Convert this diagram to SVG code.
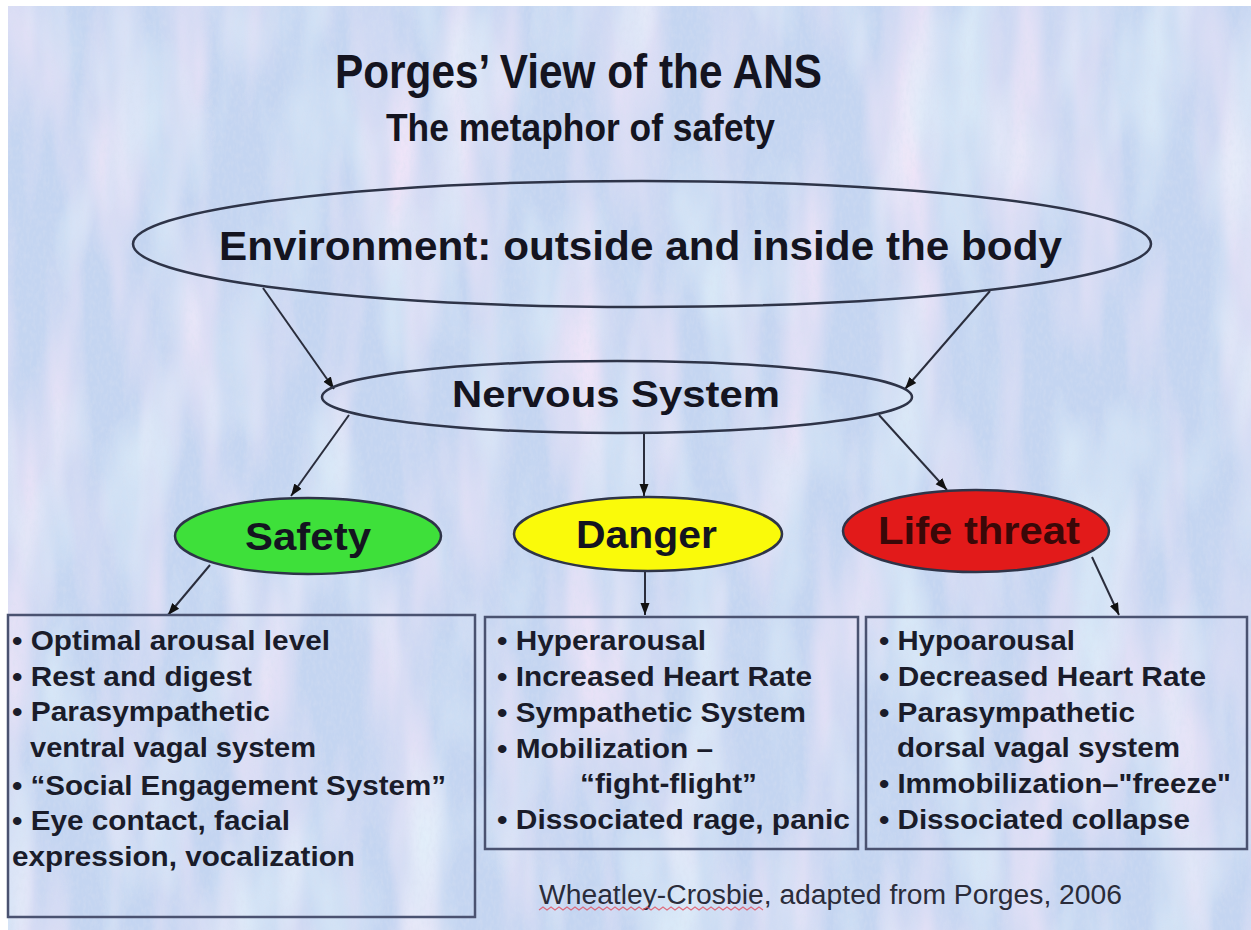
<svg xmlns="http://www.w3.org/2000/svg" width="1251" height="930" viewBox="0 0 1251 930">
<style>
.bg{fill:#c4d5f1}
.t{font-family:"Liberation Sans",Arial,Helvetica,sans-serif;font-weight:bold;fill:#141420}
.b{font-family:"Liberation Sans",Arial,Helvetica,sans-serif;font-weight:bold;fill:#1a1c2a;font-size:28px}
.f{font-family:"Liberation Sans",Arial,Helvetica,sans-serif;fill:#2a2c3a;font-size:27px}
.ell{stroke:#2e3448;stroke-width:2.5}
.box{fill:none;stroke:#4a5270;stroke-width:2.5}
.con{fill:none;stroke:#2a2d3c;stroke-width:2}
</style>
<defs>
<marker id="ah" markerUnits="userSpaceOnUse" markerWidth="14" markerHeight="12" refX="12" refY="6" orient="auto">
<path d="M0,1.5 L12,6 L0,10.5 z" fill="#111"/>
</marker>
<filter id="pink" x="0" y="0" width="100%" height="100%">
<feTurbulence type="fractalNoise" baseFrequency="0.018 0.0035" numOctaves="3" seed="7"/>
<feColorMatrix type="matrix" values="0 0 0 0 0.86  0 0 0 0 0.78  0 0 0 0 0.94  2.4 0 0 0 -1.05"/>
</filter>
<filter id="cyan" x="0" y="0" width="100%" height="100%">
<feTurbulence type="fractalNoise" baseFrequency="0.015 0.005" numOctaves="3" seed="21"/>
<feColorMatrix type="matrix" values="0 0 0 0 0.76  0 0 0 0 0.88  0 0 0 0 0.96  0 2.0 0 0 -0.95"/>
</filter>
<filter id="grain" x="0" y="0" width="100%" height="100%">
<feTurbulence type="fractalNoise" baseFrequency="0.3 0.15" numOctaves="2" seed="3"/>
<feColorMatrix type="matrix" values="0 0 0 0 0.68  0 0 0 0 0.74  0 0 0 0 0.88  1.4 0 0 0 -0.55"/>
</filter>
</defs>
<rect width="1251" height="930" fill="#ffffff"/>
<rect class="bg" x="8" y="6" width="1243" height="924"/>
<rect x="8" y="6" width="1243" height="924" filter="url(#pink)"/>
<rect x="8" y="6" width="1243" height="924" filter="url(#cyan)"/>
<rect x="8" y="6" width="1243" height="924" filter="url(#grain)" opacity="0.5"/>

<g id="title">
<text class="t" x="335" y="88" font-size="48" textLength="487" lengthAdjust="spacingAndGlyphs">Porges’ View of the ANS</text>
<text class="t" x="386" y="141" font-size="39" textLength="389" lengthAdjust="spacingAndGlyphs">The metaphor of safety</text>
</g>

<g id="connectors">
<line class="con" x1="263" y1="288" x2="334" y2="389" marker-end="url(#ah)"/>
<line class="con" x1="990" y1="291" x2="905" y2="389" marker-end="url(#ah)"/>
<line class="con" x1="349" y1="415" x2="291" y2="496" marker-end="url(#ah)"/>
<line class="con" x1="644" y1="434" x2="644" y2="496" marker-end="url(#ah)"/>
<line class="con" x1="879" y1="415" x2="947" y2="490" marker-end="url(#ah)"/>
<line class="con" x1="210" y1="565" x2="168" y2="615" marker-end="url(#ah)"/>
<line class="con" x1="645" y1="572" x2="645" y2="615" marker-end="url(#ah)"/>
<line class="con" x1="1092" y1="557" x2="1119" y2="615" marker-end="url(#ah)"/>
</g>

<g id="environment">
<ellipse class="ell" cx="642" cy="244" rx="509" ry="63" fill="none"/>
<text class="t" x="219" y="260" font-size="40" textLength="843" lengthAdjust="spacingAndGlyphs">Environment: outside and inside the body</text>
</g>

<g id="nervous-system">
<ellipse class="ell" cx="617" cy="397" rx="295" ry="36" fill="none"/>
<text class="t" x="452" y="407" font-size="37" textLength="328" lengthAdjust="spacingAndGlyphs">Nervous System</text>
</g>

<g id="safety">
<ellipse class="ell" cx="308" cy="536" rx="133" ry="38" fill="#3ee03a"/>
<text class="t" x="245" y="550" font-size="39" textLength="126" lengthAdjust="spacingAndGlyphs">Safety</text>
</g>

<g id="danger">
<ellipse class="ell" cx="648" cy="534" rx="134" ry="37" fill="#fafa0a"/>
<text class="t" x="576" y="548" font-size="39" textLength="141" lengthAdjust="spacingAndGlyphs">Danger</text>
</g>

<g id="life-threat">
<ellipse class="ell" cx="976" cy="531" rx="133" ry="41" fill="#e21a1a"/>
<text class="t" x="878" y="544" font-size="39" textLength="202" lengthAdjust="spacingAndGlyphs" style="fill:#3a0808">Life threat</text>
</g>

<g id="safety-box">
<rect class="box" x="8" y="615" width="467" height="302"/>
<text class="b" x="12" y="650" textLength="318" lengthAdjust="spacingAndGlyphs">• Optimal arousal level</text>
<text class="b" x="12" y="686" textLength="240" lengthAdjust="spacingAndGlyphs">• Rest and digest</text>
<text class="b" x="12" y="721" textLength="258" lengthAdjust="spacingAndGlyphs">• Parasympathetic</text>
<text class="b" x="30" y="757" textLength="286" lengthAdjust="spacingAndGlyphs">ventral vagal system</text>
<text class="b" x="12" y="795" textLength="434" lengthAdjust="spacingAndGlyphs">• “Social Engagement System”</text>
<text class="b" x="12" y="830" textLength="278" lengthAdjust="spacingAndGlyphs">• Eye contact, facial</text>
<text class="b" x="12" y="866" textLength="343" lengthAdjust="spacingAndGlyphs">expression, vocalization</text>
</g>

<g id="danger-box">
<rect class="box" x="485" y="617" width="373" height="232"/>
<text class="b" x="497" y="650" textLength="209" lengthAdjust="spacingAndGlyphs">• Hyperarousal</text>
<text class="b" x="497" y="686" textLength="315" lengthAdjust="spacingAndGlyphs">• Increased Heart Rate</text>
<text class="b" x="497" y="722" textLength="309" lengthAdjust="spacingAndGlyphs">• Sympathetic System</text>
<text class="b" x="497" y="758" textLength="216" lengthAdjust="spacingAndGlyphs">• Mobilization –</text>
<text class="b" x="580" y="793" textLength="177" lengthAdjust="spacingAndGlyphs">“fight-flight”</text>
<text class="b" x="497" y="829" textLength="353" lengthAdjust="spacingAndGlyphs">• Dissociated rage, panic</text>
</g>

<g id="life-threat-box">
<rect class="box" x="866" y="617" width="381" height="232"/>
<text class="b" x="879" y="650" textLength="196" lengthAdjust="spacingAndGlyphs">• Hypoarousal</text>
<text class="b" x="879" y="686" textLength="327" lengthAdjust="spacingAndGlyphs">• Decreased Heart Rate</text>
<text class="b" x="879" y="722" textLength="256" lengthAdjust="spacingAndGlyphs">• Parasympathetic</text>
<text class="b" x="897" y="757" textLength="283" lengthAdjust="spacingAndGlyphs">dorsal vagal system</text>
<text class="b" x="879" y="793" textLength="352" lengthAdjust="spacingAndGlyphs">• Immobilization–"freeze"</text>
<text class="b" x="879" y="829" textLength="311" lengthAdjust="spacingAndGlyphs">• Dissociated collapse</text>
</g>

<g id="credit">
<text class="f" x="539" y="904" textLength="583" lengthAdjust="spacingAndGlyphs">Wheatley-Crosbie, adapted from Porges, 2006</text>
<path d="M539,910 l4,-3 l4,3 l4,-3 l4,3 l4,-3 l4,3 l4,-3 l4,3 l4,-3 l4,3 l4,-3 l4,3 l4,-3 l4,3 l4,-3 l4,3 l4,-3 l4,3 l4,-3 l4,3 l4,-3 l4,3 l4,-3 l4,3 l4,-3 l4,3 l4,-3 l4,3 l4,-3 l4,3 l4,-3 l4,3 l4,-3 l4,3 l4,-3 l4,3 l4,-3 l4,3 l4,-3 l4,3 l4,-3 l4,3 l4,-3 l4,3 l4,-3 l4,3 l4,-3 l4,3 l4,-3 l4,3 l4,-3 l4,3 l4,-3 l4,3 l4,-3 l4,3" fill="none" stroke="#e05060" stroke-width="1.2" opacity="0.8"/>
</g>
</svg>
